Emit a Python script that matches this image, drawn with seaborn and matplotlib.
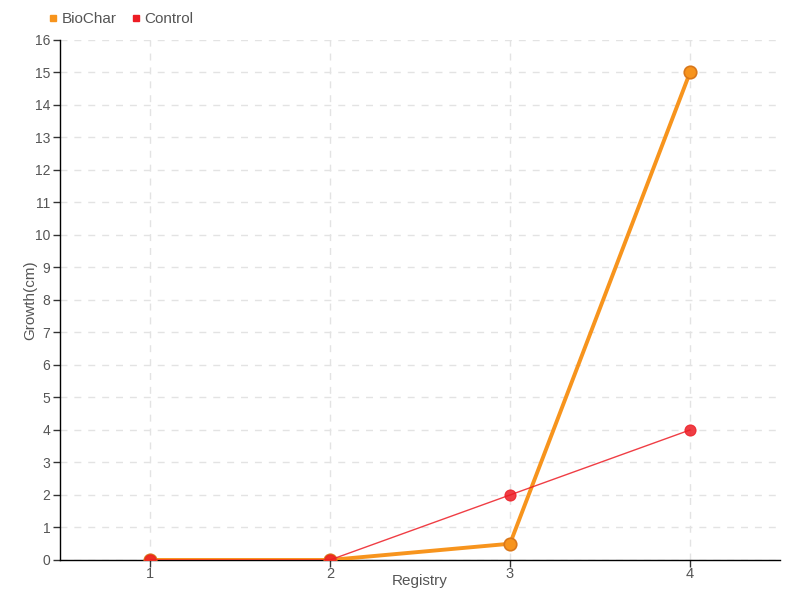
import pandas as pd
import matplotlib.pyplot as plt
import seaborn as sns
from matplotlib.lines import Line2D

# Data
registry = [1, 2, 3, 4]
biochar = [0, 0, 0.5, 15]
control = [0, 0, 2, 4]

df = pd.DataFrame({
    'Registry': registry * 2,
    'Growth': biochar + control,
    'Series': ['BioChar'] * 4 + ['Control'] * 4,
})

sns.set_style('white')
plt.rcParams['font.family'] = ['Liberation Sans', 'DejaVu Sans']

orange = '#f7941d'
red = '#ed1c24'

fig = plt.figure(figsize=(8, 6), dpi=100)
ax = fig.add_axes([0.075, 0.0667, 0.9, 0.8667])

bio = df[df['Series'] == 'BioChar']
ctl = df[df['Series'] == 'Control']
sns.lineplot(data=bio, x='Registry', y='Growth', color=orange, linewidth=2.8,
             marker='o', markersize=9, markeredgecolor='#d9771a', markeredgewidth=1.2, ax=ax, zorder=3)
sns.lineplot(data=ctl, x='Registry', y='Growth', color=red, linewidth=1, alpha=0.85,
             marker='o', markersize=8, markeredgecolor=red, ax=ax, zorder=4)

ax.set_xlim(0.5, 4.5)
ax.set_ylim(0, 16)
ax.set_xticks(registry)
ax.set_yticks(range(0, 17))
ax.grid(True, color='#e3e3e3', linestyle=(0, (5, 5)), linewidth=1)
for s in ['top', 'right']:
    ax.spines[s].set_visible(False)
for s in ['left', 'bottom']:
    ax.spines[s].set_color('black')
    ax.spines[s].set_linewidth(1)
ax.tick_params(axis='both', direction='out', length=5, width=1, color='#333333',
               labelsize=10.5, labelcolor='#555555', left=True, bottom=True)
ax.tick_params(axis='x', pad=0)
ax.tick_params(axis='y', pad=2, labelsize=10)
ax.set_xlabel('Registry', fontsize=11, color='#555555')
ax.set_ylabel('Growth(cm)', fontsize=11, color='#555555')
ax.xaxis.set_label_coords(0.5, -0.026)
ax.yaxis.set_label_coords(-0.032, 0.5)

handles = [Line2D([], [], marker='s', linestyle='', color=orange, markersize=5),
           Line2D([], [], marker='s', linestyle='', color=red, markersize=5)]
ax.legend(handles, ['BioChar', 'Control'], loc='lower left', bbox_to_anchor=(-0.05, 1.0),
          ncol=2, frameon=False, fontsize=11, handletextpad=-0.4, columnspacing=0.2,
          labelcolor='#555555')

plt.savefig('out.png', dpi=100)
